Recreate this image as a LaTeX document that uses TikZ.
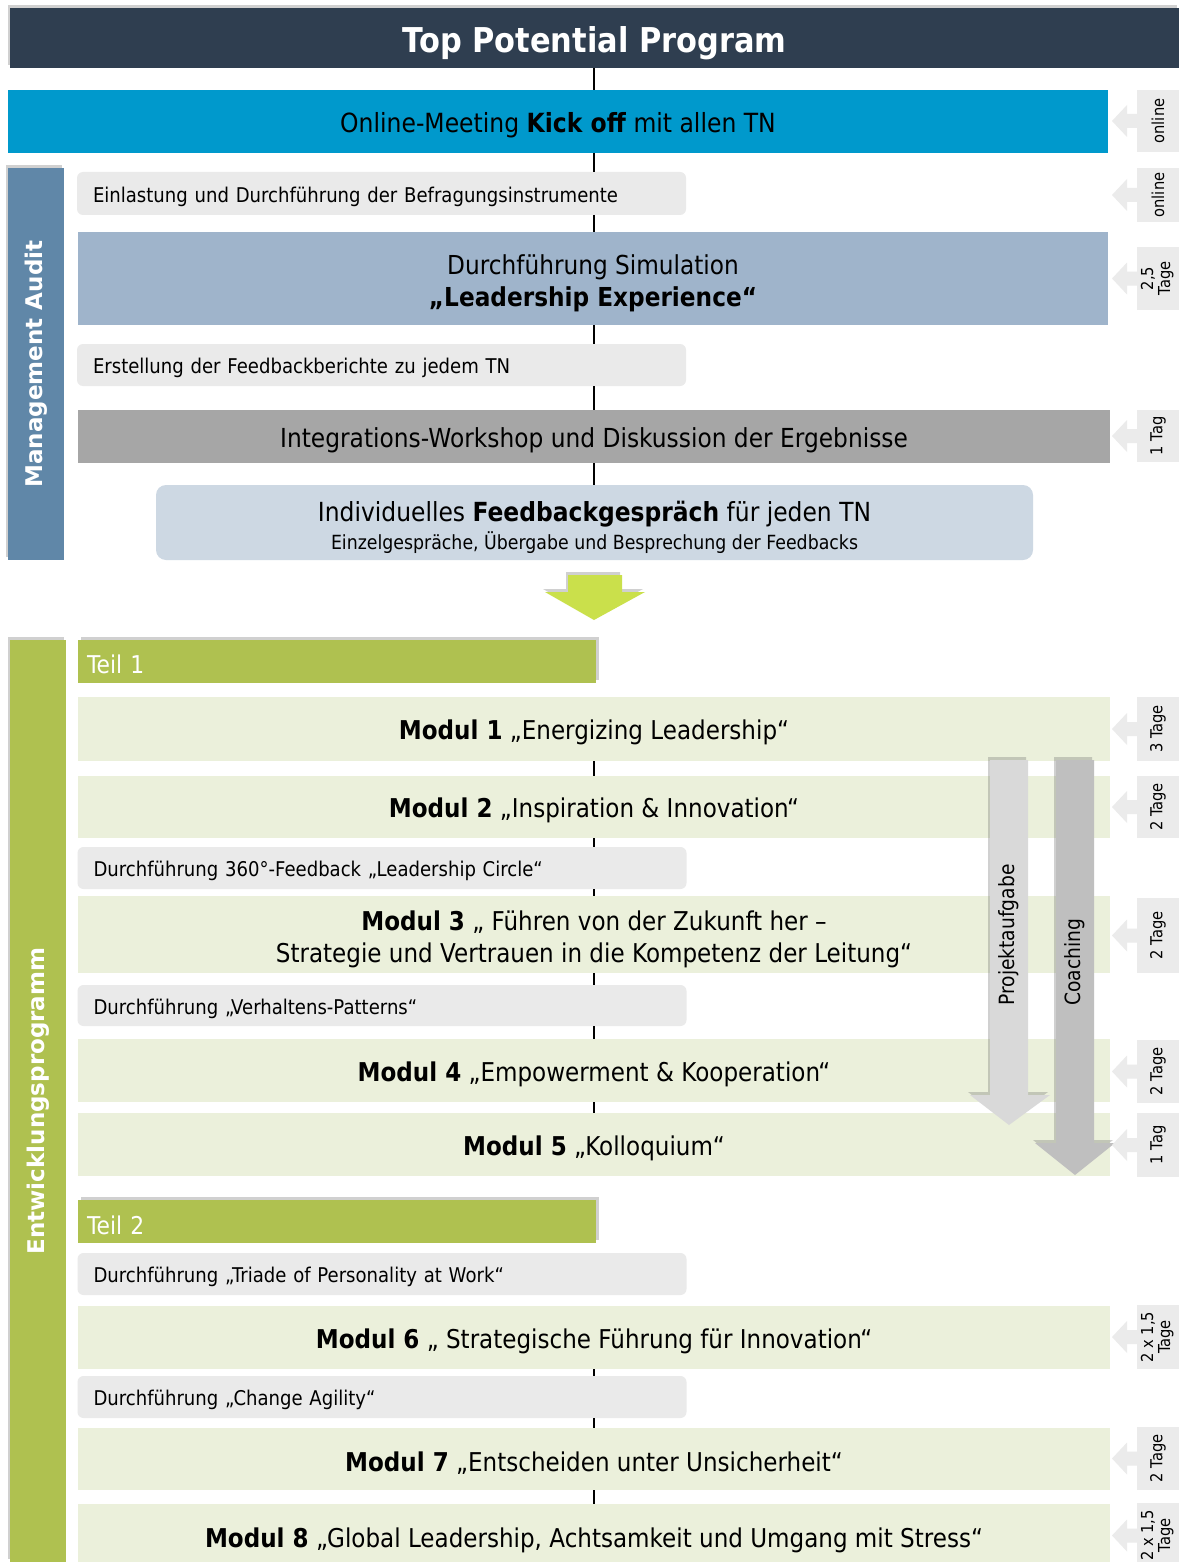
\documentclass[tikz,border=0pt]{standalone}
\usepackage{fontspec}
\setmainfont{DejaVu Sans}[FakeStretch=0.89]
\newfontfamily\sidefont{DejaVu Sans}
\usetikzlibrary{shadows,calc}
\definecolor{navy}{RGB}{47,62,80}
\definecolor{kickblue}{RGB}{0,153,204}
\definecolor{simblue}{RGB}{159,180,203}
\definecolor{boxgray}{RGB}{234,234,234}
\definecolor{integgray}{RGB}{166,166,166}
\definecolor{fbblue}{RGB}{205,216,227}
\definecolor{mgmtblue}{RGB}{96,135,168}
\definecolor{olive}{RGB}{175,193,80}
\definecolor{modgreen}{RGB}{235,240,219}
\definecolor{lime}{RGB}{202,224,75}
\definecolor{taggray}{RGB}{235,235,235}
\definecolor{projgray}{RGB}{217,217,217}
\definecolor{coachgray}{RGB}{191,191,191}
\newcommand\fs[2]{\fontsize{#1}{#2}\selectfont}
\newcommand\topstrut{\rule{0pt}{1.1em}}
\tikzset{
  band/.style={inner sep=0, outer sep=0, align=center, text=black, execute at begin node={\rule{0pt}{1.05em}}},
  smallbox/.style={band, fill=boxgray, rounded corners=6, text width=577, inner xsep=16, align=left, minimum height=42, font=\fs{20.3}{25}},
  modbox/.style={band, fill=modgreen, minimum width=1032, font=\fs{25.9}{32}},
  softshadow/.style={drop shadow={shadow xshift=-2pt, shadow yshift=3pt, opacity=.3, fill=black!60}},
  teilbar/.style={band, fill=olive, minimum width=518, minimum height=43, text width=500, inner xsep=8, align=left, text=white, font=\fs{24.5}{26}, execute at begin node={}, drop shadow={shadow xshift=3pt, shadow yshift=3pt, opacity=.3, fill=black!60}},
  sidebar/.style={band, minimum width=56, text=white, font=\sidefont\bfseries\fs{23}{26}, softshadow},
  tagbx/.style={band, fill=taggray, minimum width=42, font=\fs{16.5}{17}},
  spine/.style={draw=black, line width=2pt},
  vlabel/.style={inner sep=0, rotate=90, font=\fs{21}{24}}
}
\newcommand\mktag[4]{%
  \node[tagbx, minimum height={#3-#2}] (#1) at (1158,{(#2+#3)/2}) {\rotatebox{90}{#4}};
  \fill[taggray] ($(#1.west)+(0,7)$) -- ++(-10,0) -- ++(0,9) -- ++(-15,-16) -- ++(15,-16) -- ++(0,9) -- ++(10,0) -- cycle;
}
\begin{document}
\begin{tikzpicture}[x=1pt,y=-1pt]
\useasboundingbox (0,0) rectangle (1179,1562);
\fill[white] (0,0) rectangle (1179,1562);
\coordinate (sp) at (594,0);

% title
\node[band, fill=navy, minimum width=1169, minimum height=60, text=white, font=\bfseries\fs{34.2}{38}, softshadow] (title) at (594.5,38) {Top Potential Program};

% management audit
\node[band, fill=kickblue, minimum width=1100, minimum height=63, font=\fs{26.4}{30}] (kick) at (558,121.5) {Online-Meeting \textbf{Kick off} mit allen TN};
\node[sidebar, fill=mgmtblue, minimum height=392] (mgmt) at (36,364) {\rotatebox{90}{Management Audit}};
\node[smallbox, minimum height=43] (ein) at (381.5,193.5) {Einlastung und Durchführung der Befragungsinstrumente};
\node[band, fill=simblue, minimum width=1030, minimum height=93, font=\fs{26.1}{32}] (sim) at (593,278.5) {\topstrut Durchführung Simulation\\\textbf{„Leadership Experience“}};
\node[smallbox] (erst) at (381.5,365) {Erstellung der Feedbackberichte zu jedem TN};
\node[band, fill=integgray, minimum width=1032, minimum height=53, font=\fs{26.2}{30}] (integ) at (594,436.5) {Integrations-Workshop und Diskussion der Ergebnisse};
\node[band, fill=fbblue, rounded corners=10, minimum width=877, minimum height=75, font=\fs{26.3}{28}] (fb) at (594.5,522.5) {\rule{0pt}{1.15em}Individuelles \textbf{Feedbackgespräch} für jeden TN\\[0pt]{\fs{19.5}{22}Einzelgespräche, Übergabe und Besprechung der Feedbacks}};

% green arrow
\fill[lime, softshadow] (568,575) -- (622,575) -- (622,592) -- (645,592) -- (594,620) -- (545,592) -- (568,592) -- cycle;

% entwicklungsprogramm
\node[sidebar, fill=olive, minimum height=922] (entw) at (38,1101) {\rotatebox{90}{Entwicklungsprogramm}};
\node[teilbar] (teil1) at (337,661) {Teil 1};
\node[modbox, minimum height=64] (m1) at (594,729) {\textbf{Modul 1} „Energizing Leadership“};
\node[modbox, minimum height=62] (m2) at (594,807) {\textbf{Modul 2} „Inspiration \& Innovation“};
\node[smallbox] (c360) at (382,868) {Durchführung 360°-Feedback „Leadership Circle“};
\node[modbox, minimum height=77] (m3) at (594,934.5) {\topstrut\textbf{Modul 3} „ Führen von der Zukunft her –\\Strategie und Vertrauen in die Kompetenz der Leitung“};
\node[smallbox, minimum height=41] (verh) at (382,1005.5) {Durchführung „Verhaltens-Patterns“};
\node[modbox, minimum height=63] (m4) at (594,1070.5) {\textbf{Modul 4} „Empowerment \& Kooperation“};
\node[modbox, minimum height=63] (m5) at (594,1144.5) {\textbf{Modul 5} „Kolloquium“};
\node[teilbar] (teil2) at (337,1221.5) {Teil 2};
\node[smallbox] (triade) at (382,1274) {Durchführung „Triade of Personality at Work“};
\node[modbox, minimum height=63] (m6) at (594,1337.5) {\textbf{Modul 6} „ Strategische Führung für Innovation“};
\node[smallbox] (change) at (382,1397) {Durchführung „Change Agility“};
\node[modbox, minimum height=62] (m7) at (594,1459) {\textbf{Modul 7} „Entscheiden unter Unsicherheit“};
\node[modbox, minimum height=66] (m8) at (594,1537) {\textbf{Modul 8} „Global Leadership, Achtsamkeit und Umgang mit Stress“};

% spine connectors
\foreach \a/\b in {title/kick, kick/ein, ein/sim, sim/erst, erst/integ, integ/fb, m1/m2, m2/c360, c360/m3, m3/verh, verh/m4, m4/m5, m6/change, change/m7, m7/m8}
  \draw[spine] (\a.south -| sp) -- (\b.north -| sp);

% vertical arrows
\fill[projgray, softshadow] (990,760) -- (1028,760) -- (1028,1095) -- (1050,1095) -- (1009,1125) -- (970,1095) -- (990,1095) -- cycle;
\fill[coachgray, softshadow] (1056,760) -- (1094,760) -- (1094,1143) -- (1115,1143) -- (1075,1175) -- (1035,1143) -- (1056,1143) -- cycle;
\node[vlabel] (proj) at (1009,935) {Projektaufgabe};
\node[vlabel] (coach) at (1075,962) {Coaching};

% tags
\mktag{t1}{90}{152}{online}
\mktag{t2}{168}{222}{online}
\mktag{t3}{247}{310}{\begin{tabular}{@{}c@{}}2,5\\Tage\end{tabular}}
\mktag{t4}{410}{462}{1 Tag}
\mktag{t5}{697}{761}{3 Tage}
\mktag{t6}{776}{838}{2 Tage}
\mktag{t7}{898}{973}{2 Tage}
\mktag{t8}{1040}{1103}{2 Tage}
\mktag{t9}{1113}{1177}{1 Tag}
\mktag{t10}{1305}{1369}{\begin{tabular}{@{}c@{}}2 x 1,5\\Tage\end{tabular}}
\mktag{t11}{1427}{1490}{2 Tage}
\mktag{t12}{1503}{1568}{\begin{tabular}{@{}c@{}}2 x 1,5\\Tage\end{tabular}}
\end{tikzpicture}
\end{document}
